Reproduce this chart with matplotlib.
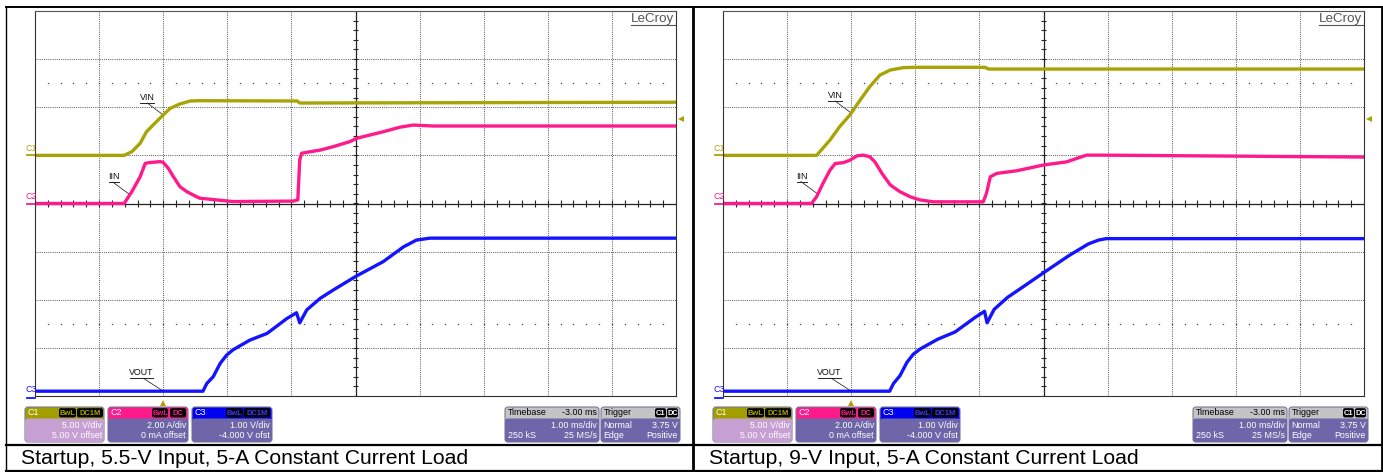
import numpy as np
import matplotlib
matplotlib.use("Agg")
import matplotlib.pyplot as plt
from matplotlib.patches import FancyBboxPatch, Rectangle
from matplotlib.collections import LineCollection

plt.rcParams['font.family'] = ['Liberation Sans', 'DejaVu Sans']

W, H, DPI = 1383, 472, 100

# ---- scope settings ----
T_MIN, T_MAX = -2.0, 8.0            # ms (1 ms/div, -3 ms delay)
C1_SCALE, C1_OFFSET = 5.0, 5.0      # VIN  : V/div, V offset
C2_SCALE, C2_OFFSET = 2.0, 0.0      # IIN  : A/div, A offset
C3_SCALE, C3_OFFSET = 1.0, -4.0     # VOUT : V/div, V offset
TRIG_LEVEL = 3.75                   # V on C1

# ---- 5.5-V input ----
vin55_t = [-2.0, -0.61, -0.49, -0.36, -0.26, -0.13, 0.0, 0.11, 0.26, 0.42, 0.57, 2.09, 2.13, 8.0]
vin55_v = [0.0, 0.0, 0.38, 1.25, 2.46, 3.34, 4.20, 4.89, 5.34, 5.65, 5.68, 5.65, 5.44, 5.52]
iin55_t = [-2.0, -0.61, -0.49, -0.36, -0.28, -0.21, -0.05, 0.0, 0.08, 0.16, 0.26, 0.37, 0.47,
           0.57, 0.83, 1.09, 2.03, 2.10, 2.13, 2.16, 2.29, 2.45, 2.65, 2.91, 3.02, 3.23, 3.43,
           3.69, 3.90, 4.21, 8.0]
iin55_a = [0.0, 0.0, 0.49, 1.11, 1.67, 1.70, 1.74, 1.71, 1.46, 1.11, 0.70, 0.49, 0.35,
           0.22, 0.15, 0.08, 0.10, 0.15, 1.81, 2.09, 2.15, 2.22, 2.36, 2.57, 2.71, 2.85, 2.98,
           3.17, 3.26, 3.22, 3.22]
vout55_t = [-2.0, 0.62, 0.68, 0.78, 0.89, 0.99, 1.09, 1.35, 1.62, 1.93, 2.08, 2.13, 2.24,
            2.45, 2.65, 3.01, 3.43, 3.75, 3.95, 4.16, 8.0]
vout55_v = [0.10, 0.10, 0.26, 0.40, 0.68, 0.85, 0.96, 1.16, 1.30, 1.61, 1.73, 1.52, 1.79,
            2.03, 2.20, 2.49, 2.79, 3.10, 3.24, 3.28, 3.28]

# ---- 9-V input ----
vin9_t = [-2.0, -0.54, -0.49, -0.33, -0.18, -0.02, 0.14, 0.29, 0.45, 0.61, 0.81, 0.97, 2.09, 2.14, 8.0]
vin9_v = [0.0, 0.0, 0.38, 1.60, 2.98, 4.20, 5.75, 7.14, 8.35, 8.87, 9.11, 9.15, 9.15, 8.97, 8.97]
iin9_t = [-2.0, -0.62, -0.54, -0.44, -0.33, -0.25, -0.12, -0.02, 0.09, 0.19, 0.29, 0.37, 0.48,
          0.61, 0.76, 0.92, 1.07, 1.28, 2.06, 2.11, 2.17, 2.27, 2.58, 3.00, 3.36, 3.67, 3.88, 8.0]
iin9_a = [0.0, 0.0, 0.28, 0.84, 1.39, 1.66, 1.70, 1.80, 1.98, 2.01, 1.94, 1.73, 1.25,
          0.77, 0.49, 0.28, 0.15, 0.07, 0.07, 0.42, 1.11, 1.25, 1.36, 1.60, 1.73, 2.01, 2.01, 1.93]
vout9_t = [-2.0, 0.60, 0.66, 0.76, 0.87, 0.97, 1.08, 1.35, 1.62, 1.93, 2.08, 2.12, 2.23,
           2.44, 2.65, 3.00, 3.40, 3.70, 3.86, 3.98, 8.0]
vout9_v = [0.10, 0.10, 0.26, 0.42, 0.70, 0.87, 0.98, 1.18, 1.33, 1.63, 1.76, 1.52, 1.80,
           2.05, 2.24, 2.56, 2.92, 3.16, 3.24, 3.27, 3.27]

captions = ["Startup, 5.5-V Input, 5-A Constant Current Load",
            "Startup, 9-V Input, 5-A Constant Current Load"]

ch_rows = [("C1", "5.00 V/div", "5.00 V offset"),
           ("C2", "2.00 A/div", "0 mA offset"),
           ("C3", "1.00 V/div", "-4.000 V ofst")]
timebase_rows = [("Timebase", "-3.00 ms"), ("", "1.00 ms/div"), ("250 kS", "25 MS/s")]
trigger_rows = [("Trigger", ""), ("Normal", "3.75 V"), ("Edge", "Positive")]

# ---- colours ----
COL_C1 = '#a8a406'
COL_C2 = '#ff1a8c'
COL_C3 = '#1414ff'
GRID_COL = '#555555'
BODY_COL = '#6e66a8'
C1_BODY = '#c6a0d2'
HEAD_GRAY = '#c4c4c4'

GRID_TOP, GRID_W, GRID_H = 11, 641, 385
PANEL_X = [0, 688]            # horizontal shift of the second panel
GRID_LEFT = 35

fig = plt.figure(figsize=(W / DPI, H / DPI), dpi=DPI)
fig.patch.set_facecolor('white')

ov = fig.add_axes([0, 0, 1, 1], zorder=0)
ov.set_xlim(0, W)
ov.set_ylim(H, 0)
ov.axis('off')


def to_div(vals, scale, offset):
    return (np.asarray(vals, float) + offset) / scale


def to_px(ax, t, d):
    x, y = ax.transData.transform((t, d))
    return x, H - y


def lead_label(ax, name, t_tip, tr_t, tr_d, ul0, ul1, ul_dy, lead_dx):
    d_tip = np.interp(t_tip, tr_t, tr_d)
    px, py = to_px(ax, t_tip, d_tip)
    uy = py - ul_dy
    ov.plot([px + ul0, px + ul1], [uy, uy], color='#222', lw=0.7, zorder=5)
    ov.plot([px + lead_dx, px], [uy, py], color='#333', lw=0.6, zorder=5)
    ov.text(px + (ul0 + ul1) / 2, uy - 0.8, name, ha='center', va='bottom',
            fontsize=6.4, color='#111', zorder=5)


def rbox(x0, y0, x1, y1, fc, ec='none', r=3, lw=0.8, z=2):
    ov.add_patch(FancyBboxPatch((x0, y0), x1 - x0, y1 - y0,
                                boxstyle=f'round,pad=0,rounding_size={r}',
                                fc=fc, ec=ec, lw=lw, zorder=z))


def badge(x0, x1, yc, text, fg):
    rbox(x0, yc - 4.6, x1, yc + 4.6, 'black', r=2, z=4)
    ov.text((x0 + x1) / 2, yc + 0.3, text, ha='center', va='center',
            fontsize=5.4, color=fg, zorder=5, fontweight='bold')


def info_box(x0, x1, head_col, body_col, head_left, head_left_col, head_right_col,
             rows, badges=()):
    y0, yh, y1 = 407, 418.5, 442
    rbox(x0, y0, x1, y1, head_col, ec='#7a7a96', z=2)
    rbox(x0, yh, x1, y1, body_col, z=3)
    ov.add_patch(Rectangle((x0 + 0.5, yh), x1 - x0 - 1, 4, fc=body_col, ec='none', zorder=3))
    ov.text(x0 + 2.5, 412.8, head_left, ha='left', va='center', fontsize=6.4,
            color=head_left_col, zorder=5)
    for (bx0, bx1, txt, fg) in badges:
        badge(x0 + bx0, x0 + bx1, 412.8, txt, fg)
    for (yy, (lt, rt)) in zip((412.8, 425, 436), rows):
        if yy == 412.8:
            if rt:
                ov.text(x1 - 2, yy, rt, ha='right', va='center', fontsize=6.4,
                        color=head_right_col, zorder=5)
            continue
        col = 'white'
        if lt:
            ov.text(x0 + 2.5, yy, lt, ha='left', va='center', fontsize=6.4, color=col, zorder=5)
        if rt:
            ov.text(x1 - 2, yy, rt, ha='right', va='center', fontsize=6.4, color=col, zorder=5)


def draw_panel(shift, vin_t, vin_v, iin_t, iin_a, vout_t, vout_v, caption):
    gx = GRID_LEFT + shift
    ax = fig.add_axes([gx / W, 1 - (GRID_TOP + GRID_H) / H, GRID_W / W, GRID_H / H], zorder=1)
    ax.set_xlim(T_MIN, T_MAX)
    ax.set_ylim(-4, 4)
    ax.set_xticks([])
    ax.set_yticks([])
    ax.patch.set_alpha(0)
    for s in ax.spines.values():
        s.set_color('#333333')
        s.set_linewidth(0.8)
    ax.spines['top'].set_linestyle((0, (1, 1)))
    ax.spines['top'].set_color(GRID_COL)

    tc = T_MIN + 5
    for k in range(1, 10):
        if k != 5:
            ax.axvline(T_MIN + k, color=GRID_COL, lw=0.7, ls=(0, (1, 1.2)))
    for k in range(-3, 4):
        if k != 0:
            ax.axhline(k, color=GRID_COL, lw=0.7, ls=(0, (1, 1.2)))
    ax.axvline(tc, color='#222222', lw=0.9)
    ax.axhline(0, color='#222222', lw=0.9)
    segs = [[(tc - 0.045, y), (tc + 0.045, y)] for y in np.arange(-4, 4.01, 0.2)]
    segs += [[(x, -0.065), (x, 0.065)] for x in np.arange(T_MIN, T_MAX + 0.01, 0.2)]
    ax.add_collection(LineCollection(segs, colors='#222222', lw=0.8))
    xs = np.arange(T_MIN + 0.2, T_MAX - 0.1, 0.2)
    for yrow in (2.5, -2.5):
        ax.plot(xs, np.full_like(xs, yrow), ls='none', marker='s', ms=0.9,
                mew=0, color='#444444')

    vin_d = to_div(vin_v, C1_SCALE, C1_OFFSET)
    iin_d = to_div(iin_a, C2_SCALE, C2_OFFSET)
    vout_d = to_div(vout_v, C3_SCALE, C3_OFFSET)
    kw = dict(lw=2.4, solid_joinstyle='round', solid_capstyle='butt', clip_on=False)
    ax.plot(vin_t, vin_d, color=COL_C1, **kw)
    ax.plot(iin_t, iin_d, color=COL_C2, **kw)
    ax.plot(vout_t, vout_d, color=COL_C3, **kw)

    # channel ground markers and names
    ytr = ax.get_yaxis_transform()
    for name, col, gnd in (("C1", COL_C1, C1_OFFSET / C1_SCALE),
                           ("C2", COL_C2, C2_OFFSET / C2_SCALE),
                           ("C3", COL_C3, C3_OFFSET / C3_SCALE)):
        gy = gnd if gnd > -4 else -4 - 2 / 48.1
        ax.plot([-8 / GRID_W, 0], [gy, gy], transform=ytr, color=col, lw=1.3, clip_on=False)
        ax.annotate(name, xy=(0, gnd), xycoords=ytr, xytext=(-10, 2.5),
                    textcoords='offset pixels', ha='left', va='bottom',
                    fontsize=6.4, color=col, annotation_clip=False)
    # trigger position and level markers
    ax.plot([0.0], [-6.5 / GRID_H], transform=ax.get_xaxis_transform(), marker='^',
            ms=5, color=COL_C1, mew=0, clip_on=False)
    ax.plot([1 + 5 / GRID_W], [(TRIG_LEVEL + C1_OFFSET) / C1_SCALE], transform=ytr,
            marker='<', ms=5, color=COL_C1, mew=0, clip_on=False)

    # logo
    ax.text(1 - 1.5 / GRID_W, 1 - 2 / GRID_H, 'LeCroy', transform=ax.transAxes,
            ha='right', va='top', fontsize=9.6, color='#555555')
    ax.plot([1 - 45 / GRID_W, 1 - 1.5 / GRID_W], [1 - 14.5 / GRID_H] * 2,
            transform=ax.transAxes, color='#555555', lw=0.8)

    # trace names with leader lines
    lead_label(ax, 'VIN', 0.0, vin_t, vin_d, -23, -9, 12, -16)
    lead_label(ax, 'IIN', -0.52, iin_t, iin_d, -21, -11, 12.5, -17)
    lead_label(ax, 'VOUT', 0.0, vout_t, vout_d, -33, -10, 13, -20)

    # readout boxes
    info_box(25 + shift, 104 + shift, '#a29e00', C1_BODY, 'C1', 'white', None,
             [("", ""), ("", ch_rows[0][1]), ("", ch_rows[0][2])],
             badges=[(34, 51, 'BwL', COL_C1), (52, 78, 'DC1M', COL_C1)])
    info_box(108 + shift, 188 + shift, COL_C2, BODY_COL, 'C2', 'white', None,
             [("", ""), ("", ch_rows[1][1]), ("", ch_rows[1][2])],
             badges=[(44, 60, 'BwL', COL_C2), (62, 78, 'DC', COL_C2)])
    info_box(192 + shift, 272 + shift, '#0000f0', BODY_COL, 'C3', 'white', None,
             [("", ""), ("", ch_rows[2][1]), ("", ch_rows[2][2])],
             badges=[(34, 51, 'BwL', '#3a3aff'), (52, 78, 'DC1M', '#3a3aff')])
    info_box(505 + shift, 599 + shift, HEAD_GRAY, BODY_COL, timebase_rows[0][0], 'black',
             'black', timebase_rows)
    info_box(601 + shift, 680 + shift, HEAD_GRAY, BODY_COL, trigger_rows[0][0], 'black',
             'black', trigger_rows,
             badges=[(54, 65, 'C1', 'white'), (66, 77, 'DC', 'white')])

    ov.text(21 + shift, 464, caption, ha='left', va='baseline', fontsize=15.2, color='black')
    return ax


draw_panel(PANEL_X[0], vin55_t, vin55_v, iin55_t, iin55_a, vout55_t, vout55_v, captions[0])
draw_panel(PANEL_X[1], vin9_t, vin9_v, iin9_t, iin9_a, vout9_t, vout9_v, captions[1])

# table rules
ov.plot([6, 1382], [7, 7], color='black', lw=1.4)
ov.plot([6, 1382], [445, 445], color='black', lw=1.6)
ov.plot([6, 1382], [470.5, 470.5], color='black', lw=1.6)
ov.plot([6, 6], [7, 471], color='black', lw=1.0)
ov.plot([693, 693], [7, 471], color='black', lw=2.0)
ov.plot([1381.5, 1381.5], [7, 471], color='black', lw=2.0)

fig.savefig('out.png', dpi=DPI, facecolor='white')
